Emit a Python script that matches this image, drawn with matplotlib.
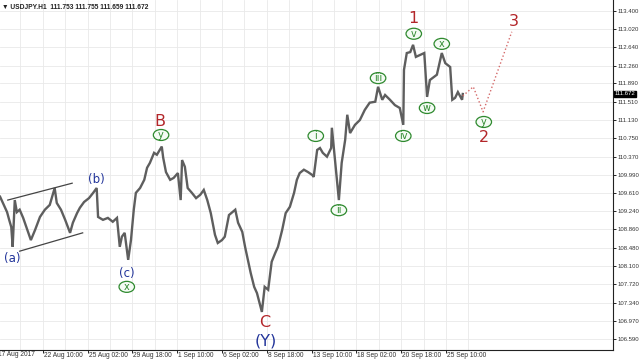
import matplotlib
matplotlib.use("Agg")
import matplotlib.pyplot as plt
import matplotlib.transforms as mtransforms
from matplotlib.patches import Ellipse

# USDJPY H1 path (bar index, price)
bars = [3, 7, 13, 16, 19, 21, 24, 27, 31, 36, 41, 47, 53, 60, 67, 74, 81, 84, 90, 96,
        103, 107, 113, 117, 123, 130, 136, 141, 143, 150, 157, 164, 170, 174, 177, 181,
        186, 190, 194, 197, 203, 209, 213, 217, 223, 227, 234, 236, 240, 246, 251, 257,
        261, 263, 267, 271, 277, 283, 289, 294, 299, 304, 310, 314, 320, 324, 330, 339,
        343, 349, 353, 357, 361, 366, 370, 377, 381, 386, 391, 396, 400, 406, 411, 417,
        423, 427, 431, 437, 443, 449, 451, 456, 460, 464, 470, 476, 477, 481, 487, 491,
        496, 499, 503, 510, 517, 524, 531, 539, 543, 549, 553, 560, 567, 574, 579, 580,
        584, 589, 593, 597, 603, 609, 613, 617, 627, 634, 639, 646, 649, 653, 657, 663, 664]
prices = [109.54, 109.41, 109.22, 109.06, 108.91, 108.50, 109.47, 109.22, 109.27, 109.10,
          108.89, 108.64, 108.85, 109.12, 109.27, 109.37, 109.72, 109.41, 109.27, 109.06,
          108.79, 109.00, 109.20, 109.31, 109.43, 109.51, 109.62, 109.72, 109.12, 109.06,
          109.10, 109.02, 109.10, 108.50, 108.71, 108.79, 108.23, 108.64, 109.27, 109.62,
          109.72, 109.89, 110.14, 110.24, 110.45, 110.41, 110.58, 110.35, 110.05, 109.89,
          109.93, 110.03, 109.47, 110.30, 110.16, 109.72, 109.62, 109.51, 109.58, 109.68,
          109.47, 109.20, 108.75, 108.58, 108.64, 108.71, 109.16, 109.27, 109.00, 108.81,
          108.50, 108.23, 107.96, 107.67, 107.54, 107.15, 107.67, 107.61, 108.19, 108.37,
          108.50, 108.85, 109.20, 109.33, 109.62, 109.89, 110.03, 110.10, 110.05, 109.99,
          109.95, 110.51, 110.55, 110.45, 110.37, 110.55, 110.97, 110.37, 109.47, 110.24,
          110.72, 111.24, 110.86, 111.03, 111.13, 111.34, 111.49, 111.51, 111.82, 111.55,
          111.65, 111.55, 111.44, 111.38, 111.03, 112.17, 112.52, 112.54, 112.69, 112.44,
          112.48, 112.52, 111.61, 111.96, 112.07, 112.52, 112.31, 112.23, 111.55, 111.59,
          111.71, 111.55, 111.67]

# projected path (dotted)
proj_bars = [664, 679, 693, 734]
proj_prices = [111.63, 111.82, 111.30, 112.96]

# channel around (a)-(b)
chan_upper_bars = [14, 106]
chan_upper = [109.47, 109.82]
chan_lower_bars = [31, 121]
chan_lower = [108.41, 108.79]

date_ticks = [64, 128, 192, 256, 320, 384, 448, 512, 576, 640]
date_labels = ["22 Aug 10:00", "25 Aug 02:00", "29 Aug 18:00", "1 Sep 10:00",
               "6 Sep 02:00", "8 Sep 18:00", "13 Sep 10:00", "18 Sep 02:00",
               "20 Sep 18:00", "25 Sep 10:00"]
price_ticks = [113.400, 113.020, 112.640, 112.260, 111.890, 111.510, 111.130, 110.750,
               110.370, 109.990, 109.610, 109.240, 108.860, 108.480, 108.100, 107.720,
               107.340, 106.970, 106.590]
last_price = 111.672

SMALL = ["Liberation Sans", "DejaVu Sans"]
RED = "#b3262a"
BLUE = "#22349a"
GREEN = "#2f8a2f"

fig = plt.figure(figsize=(6.4, 3.6), dpi=100)
ax = fig.add_axes([0, 10 / 360, 613 / 640, 350 / 360])

ax.plot(bars, prices, color="#5e5e5e", linewidth=1.7, solid_joinstyle="miter")
ax.plot(proj_bars, proj_prices, color="#d46a6a", linewidth=1.0, linestyle=":")
ax.plot(chan_upper_bars, chan_upper, color="#444444", linewidth=0.9)
ax.plot(chan_lower_bars, chan_lower, color="#444444", linewidth=0.9)

# axes / ticks in MT4 style
for side in ["left", "top"]:
    ax.spines[side].set_visible(False)
ax.spines["right"].set_color("#222222")
ax.spines["bottom"].set_color("#222222")
ax.spines["right"].set_linewidth(0.8)
ax.spines["bottom"].set_linewidth(0.8)

ax.yaxis.tick_right()
ax.set_yticks(price_ticks)
ax.set_yticklabels([f"{v:.3f}" for v in price_ticks], fontsize=4.3, family=SMALL,
                   color="#333333")
ax.tick_params(axis="y", length=2.5, width=0.6, pad=0.8)

ax.set_xticks(date_ticks)
ax.set_xticklabels(date_labels, fontsize=4.8, family=SMALL, color="#333333", ha="left")
ax.set_xticks([t + 32 for t in date_ticks] + [32], minor=True)
ax.tick_params(axis="x", which="major", length=2.5, width=0.6, pad=-1.0)
ax.tick_params(axis="x", which="minor", length=0)
for lbl in ax.get_xticklabels():
    lbl.set_transform(lbl.get_transform() + mtransforms.ScaledTranslation(1 / 100, 0, fig.dpi_scale_trans))

ax.grid(True, which="both", color="#e9e9e9", linewidth=0.6)
ax.set_axisbelow(True)

# limits last, so tick setting can't widen them
ax.set_xlim(2.9, 878.6)
ax.set_ylim(106.36, 113.62)

# first (clipped) date label
ax.text(0, -0.004, "17 Aug 2017", transform=mtransforms.blended_transform_factory(ax.transData, ax.transAxes),
        fontsize=4.8, family=SMALL, color="#333333", ha="left", va="top", clip_on=False)

# current price marker
ax.text(1.003, last_price, f"{last_price:.3f}",
        transform=mtransforms.blended_transform_factory(ax.transAxes, ax.transData),
        fontsize=4.3, family=SMALL, color="white", ha="left", va="center", clip_on=False,
        bbox=dict(boxstyle="square,pad=0.15", facecolor="black", edgecolor="black"))

# header
fig.text(0.003, 0.988, "\u25bc USDJPY.H1  111.753 111.755 111.659 111.672", fontsize=4.8,
         family=SMALL, color="#222222", ha="left", va="top", fontweight="bold")

# wave labels
for txt, bx, py in [("B", 231, 111.09), ("C", 381, 106.93), ("1", 594, 113.23),
                    ("2", 694, 110.76), ("3", 737, 113.17)]:
    ax.text(bx, py, txt, color=RED, fontsize=11.5, ha="center", va="center")
for txt, bx, py, fs in [("(b)", 140, 109.89, 8.5), ("(a)", 20, 108.25, 8.5),
                        ("(c)", 184, 107.94, 8.5), ("(Y)", 383, 106.55, 11.5)]:
    ax.text(bx, py, txt, color=BLUE, fontsize=fs, ha="center", va="center")
for txt, bx, py in [("y", 233, 110.82), ("x", 184, 107.67), ("i", 454, 110.80),
                    ("ii", 487, 109.26), ("iii", 543, 112.00), ("iv", 579, 110.80),
                    ("v", 594, 112.92), ("w", 613, 111.38), ("x", 634, 112.71),
                    ("y", 694, 111.09)]:
    # fixed-size ellipse (in inches) centred on the label
    at = fig.dpi_scale_trans + mtransforms.ScaledTranslation(bx, py, ax.transData)
    ax.add_patch(Ellipse((0, 0), 0.155, 0.11, transform=at, facecolor="#f4fbf4",
                         edgecolor=GREEN, linewidth=0.9, zorder=3))
    ax.text(bx, py, txt, color=GREEN, fontsize=7, ha="center", va="center", zorder=4)

fig.savefig("out.png", dpi=100)
